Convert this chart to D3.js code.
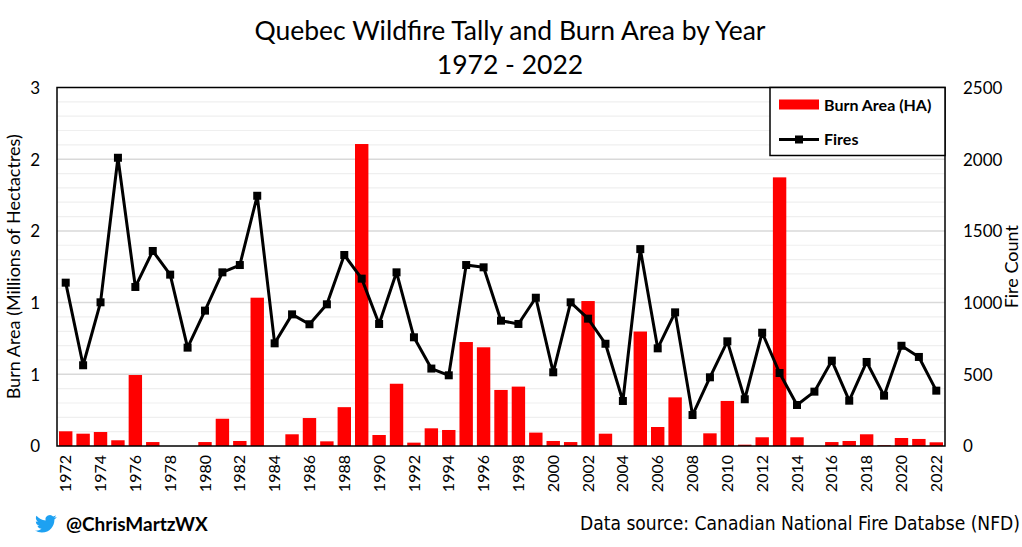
<!DOCTYPE html>
<html>
<head>
<meta charset="utf-8">
<script src="https://cdn.jsdelivr.net/npm/d3@7"></script>
<style>
  body { margin: 0; background: #fff; }
  text { font-family: Lato, "Open Sans", sans-serif; fill: #000; }
</style>
</head>
<body>
<div id="chart"></div>
<script>
// data
const years = d3.range(1972, 2023);
const burnArea = [0.123, 0.103, 0.117, 0.048, 0.594, 0.033, 0, 0, 0.033, 0.228,
                  0.042, 1.241, 0, 0.098, 0.234, 0.039, 0.325, 2.527, 0.092, 0.521,
                  0.028, 0.148, 0.134, 0.870, 0.826, 0.469, 0.497, 0.112, 0.042, 0.033,
                  1.213, 0.103, 0, 0.958, 0.159, 0.407, 0, 0.106, 0.377, 0.011,
                  0.073, 2.248, 0.073, 0, 0.033, 0.042, 0.098, 0.006, 0.067, 0.059, 0.031];
const fires = [1139, 563, 1002, 2010, 1109, 1360, 1195, 686, 944, 1211,
               1262, 1745, 716, 918, 849, 988, 1332, 1167, 851, 1211,
               758, 540, 493, 1262, 1246, 874, 851, 1034, 514, 1002,
               888, 713, 314, 1373, 681, 932, 216, 479, 730, 326,
               790, 509, 286, 379, 595, 316, 586, 351, 699, 621, 386];
const leftTicks = [0, 0.6, 1.2, 1.8, 2.4, 3.0];
const rightTicks = [0, 500, 1000, 1500, 2000, 2500];

const W = 1022, H = 547;
const margin = { top: 87.5, right: 77, bottom: 101, left: 57 },
      width = W - margin.left - margin.right,
      height = H - margin.top - margin.bottom;

const root = d3.select("#chart").append("svg")
    .attr("width", W).attr("height", H);

const svg = root.append("g")
    .attr("transform", `translate(${margin.left},${margin.top})`);

const x = d3.scaleBand().domain(years).range([0, width]).paddingInner(0.23).paddingOuter(0.115);
const yL = d3.scaleLinear().domain([0, 3]).range([height, 0]);
const yR = d3.scaleLinear().domain([0, 2500]).range([height, 0]);

// minor grid
svg.append("g").selectAll("line")
   .data(d3.range(0, 2501, 100).filter(d => d % 500 !== 0))
   .enter().append("line")
   .attr("x1", 0).attr("x2", width)
   .attr("y1", d => yR(d)).attr("y2", d => yR(d))
   .attr("stroke", "#efefef").attr("stroke-width", 1.2);

// major grid
svg.append("g").selectAll("line")
   .data(rightTicks.slice(1, -1))
   .enter().append("line")
   .attr("x1", 0).attr("x2", width)
   .attr("y1", d => yR(d)).attr("y2", d => yR(d))
   .attr("stroke", "#d9d9d9").attr("stroke-width", 1.5);

// bars
svg.append("g").selectAll("rect")
   .data(years.map((d, i) => ({ year: d, v: burnArea[i] })))
   .enter().append("rect")
   .attr("x", d => x(d.year))
   .attr("width", x.bandwidth())
   .attr("y", d => yL(d.v))
   .attr("height", d => height - yL(d.v))
   .attr("fill", "#ff0000");

// fires line
const pts = years.map((d, i) => ({ year: d, v: fires[i] }));
const line = d3.line()
    .x(d => x(d.year) + x.bandwidth() / 2)
    .y(d => yR(d.v));

svg.append("path")
   .datum(pts)
   .attr("fill", "none")
   .attr("stroke", "#000")
   .attr("stroke-width", 3)
   .attr("stroke-linejoin", "round")
   .attr("d", line);

svg.append("g").selectAll("rect")
   .data(pts)
   .enter().append("rect")
   .attr("x", d => x(d.year) + x.bandwidth() / 2 - 4)
   .attr("y", d => yR(d.v) - 4)
   .attr("width", 8).attr("height", 8)
   .attr("fill", "#000");

// plot border
svg.append("rect")
   .attr("width", width).attr("height", height)
   .attr("fill", "none").attr("stroke", "#000").attr("stroke-width", 1.5);

// left axis
const axL = svg.append("g")
   .call(d3.axisLeft(yL).tickValues(leftTicks).tickSize(0).tickPadding(17)
          .tickFormat(d3.format(".0f")));
axL.select(".domain").remove();
axL.selectAll("text").style("font-size", "17px").attr("dy", "0.35em");

// right axis
const axR = svg.append("g")
   .attr("transform", `translate(${width},0)`)
   .call(d3.axisRight(yR).tickValues(rightTicks).tickSize(0).tickPadding(18)
          .tickFormat(d3.format("d")));
axR.select(".domain").remove();
axR.selectAll("text").style("font-size", "17px").attr("dy", "0.35em");

// bottom axis
const axB = svg.append("g")
   .attr("transform", `translate(0,${height})`)
   .call(d3.axisBottom(x).tickValues(years.filter(d => d % 2 === 0)).tickSize(0));
axB.select(".domain").remove();
axB.selectAll("text")
   .style("font-size", "16px")
   .attr("text-anchor", "end")
   .attr("transform", "rotate(-90)")
   .attr("x", -9)
   .attr("y", 0)
   .attr("dy", "0.35em");

// axis titles
svg.append("text")
   .attr("transform", "rotate(-90)")
   .attr("x", -height / 2)
   .attr("y", -margin.left + 20)
   .attr("text-anchor", "middle")
   .style("font-size", "18px")
   .text("Burn Area (Millions of Hectactres)");

svg.append("text")
   .attr("transform", "rotate(-90)")
   .attr("x", -height / 2)
   .attr("y", width + 73)
   .attr("text-anchor", "middle")
   .style("font-size", "18px")
   .text("Fire Count");

// legend
const lg = svg.append("g").attr("transform", `translate(${width - 175},0)`);
lg.append("rect")
  .attr("width", 175).attr("height", 68)
  .attr("fill", "#fff").attr("stroke", "#000").attr("stroke-width", 1.5);
lg.append("rect")
  .attr("x", 9).attr("y", 12).attr("width", 40).attr("height", 10)
  .attr("fill", "#ff0000");
lg.append("text")
  .attr("x", 54).attr("y", 23)
  .style("font-size", "16px").style("font-weight", "bold")
  .text("Burn Area (HA)");
lg.append("line")
  .attr("x1", 9).attr("x2", 49).attr("y1", 52).attr("y2", 52)
  .attr("stroke", "#000").attr("stroke-width", 3);
lg.append("rect")
  .attr("x", 25).attr("y", 48).attr("width", 8).attr("height", 8)
  .attr("fill", "#000");
lg.append("text")
  .attr("x", 54).attr("y", 57)
  .style("font-size", "16px").style("font-weight", "bold")
  .text("Fires");

// title
root.append("text")
    .attr("x", 510).attr("y", 40)
    .attr("text-anchor", "middle")
    .style("font-size", "26.5px")
    .text("Quebec Wildfire Tally and Burn Area by Year");
root.append("text")
    .attr("x", 510).attr("y", 74)
    .attr("text-anchor", "middle")
    .style("font-size", "26.5px")
    .text("1972 - 2022");

// footer
root.append("path")
    .attr("transform", "translate(35,513) scale(0.9)")
    .attr("fill", "#1da1f2")
    .attr("d", "M23.953 4.57a10 10 0 01-2.825.775 4.958 4.958 0 002.163-2.723c-.951.555-2.005.959-3.127 1.184a4.92 4.92 0 00-8.384 4.482C7.69 8.095 4.067 6.13 1.64 3.162a4.822 4.822 0 00-.666 2.475c0 1.71.87 3.213 2.188 4.096a4.904 4.904 0 01-2.228-.616v.06a4.923 4.923 0 003.946 4.827 4.996 4.996 0 01-2.212.085 4.936 4.936 0 004.604 3.417 9.867 9.867 0 01-6.102 2.105c-.39 0-.779-.023-1.17-.067a13.995 13.995 0 007.557 2.209c9.053 0 13.998-7.496 13.998-13.985 0-.21 0-.42-.015-.63A9.935 9.935 0 0024 4.59z");

root.append("text")
    .attr("x", 66).attr("y", 531)
    .style("font-size", "19px").style("font-weight", "bold")
    .text("@ChrisMartzWX");

root.append("text")
    .attr("x", 580).attr("y", 530)
    .attr("textLength", 440)
    .attr("lengthAdjust", "spacingAndGlyphs")
    .style("font-family", "'Liberation Sans Narrow', 'DejaVu Sans Condensed', sans-serif")
    .style("font-size", "19px")
    .text("Data source: Canadian National Fire Databse (NFD)");
</script>
</body>
</html>
